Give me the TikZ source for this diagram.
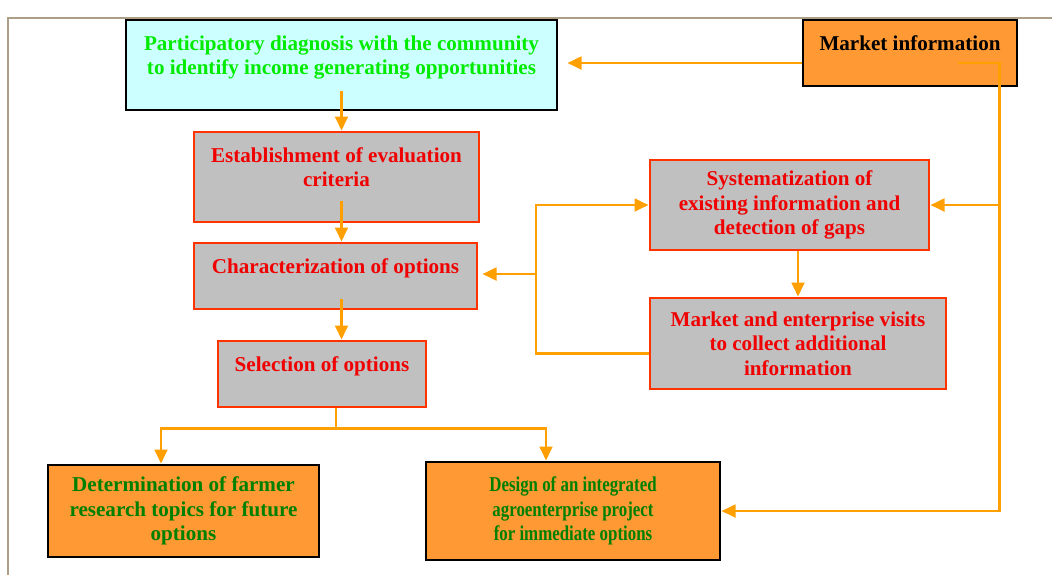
\documentclass[tikz,border=0pt]{standalone}
\usepackage{fontspec}
\setmainfont{Liberation Serif}
\newfontfamily\narrowfont{Liberation Serif}[FakeStretch=0.8]
\usepackage{xcolor}
\usepackage{tikz}
\usetikzlibrary{arrows.meta, calc}
\definecolor{borderline}{RGB}{172,158,135}
\definecolor{paleCyan}{RGB}{204,255,255}
\definecolor{brightGreen}{RGB}{0,235,0}
\definecolor{darkGreen}{RGB}{0,128,0}
\definecolor{stepRed}{RGB}{240,0,0}
\definecolor{stepLine}{RGB}{255,51,0}
\definecolor{stepGray}{RGB}{192,192,192}
\definecolor{boxOrange}{RGB}{255,153,51}
\definecolor{flowOrange}{RGB}{255,160,0}
\tikzset{
    box/.style={rectangle, text centered, draw, line width=2pt, align=center, font=\bfseries\fontsize{15}{17.4}\selectfont},
    diagnosis/.style={box, fill=paleCyan, text=brightGreen},
    stepbox/.style={box, draw=stepLine, fill=stepGray, text=stepRed},
    source/.style={box, fill=boxOrange, text=black},
    outcome/.style={box, fill=boxOrange, text=darkGreen},
    flow/.style={-{Triangle[length=10pt, width=9pt]}, line width=2pt, color=flowOrange},
    link/.style={line width=2pt, color=flowOrange}
}

\begin{document}
\begin{tikzpicture}[x=0.025cm, y=-0.025cm]
    \useasboundingbox (0,0) rectangle (1052,575);
    \draw[line width=1.5pt, borderline] (8,575) -- (8,18) -- (1052,18);

    % Boxes
    \node[diagnosis, minimum width=10.775cm, minimum height=2.25cm] (diag) at (341.5,65) {Participatory diagnosis with the community\\ to identify income generating opportunities\\[-8.5pt] \strut};
    \node[source, minimum width=5.35cm, minimum height=1.65cm] (market) at (910,53) {Market information\\[-8.5pt] \strut};
    \node[stepbox, minimum width=7.125cm, minimum height=2.25cm] (criteria) at (336.5,177) {Establishment of evaluation\\ criteria\\[-8.5pt] \strut};
    \node[stepbox, minimum width=7.075cm, minimum height=1.65cm] (charac) at (335.5,276) {Characterization of options\\[-8.5pt] \strut};
    \node[stepbox, minimum width=5.2cm, minimum height=1.65cm] (select) at (322,374) {Selection of options\\[-8.5pt] \strut};
    \node[stepbox, minimum width=6.975cm, minimum height=2.25cm] (system) at (789.5,205) {Systematization of\\ existing information and\\ detection of gaps};
    \node[stepbox, minimum width=7.4cm, minimum height=2.275cm] (visits) at (798,343.5) {Market and enterprise visits\\ to collect additional\\ information};
    \node[outcome, minimum width=6.775cm, minimum height=2.3cm] (topics) at (183.5,511) {Determination of farmer\\ research topics for future\\ options};
    \node[outcome, minimum width=7.35cm, minimum height=2.45cm, font=\bfseries\narrowfont\fontsize{15}{17.4}\selectfont] (design) at (573,511) {Design of an integrated\\ agroenterprise project\\ for immediate options};

    % Main sequence
    \draw[flow] ($(diag.south)+(0,-20)$) -- (diag.south |- criteria.north);
    \draw[flow] ($(diag.south |- criteria.south)+(0,-22)$) -- (diag.south |- charac.north);
    \draw[flow] ($(diag.south |- charac.south)+(0,-11)$) -- (diag.south |- select.north);
    \draw[link] ($(select.south)+(14,0)$) -- ($(select.south)+(14,20)$) coordinate (fork);
    \draw[flow] (fork) -| ($(topics.north)+(-22.5,0)$);
    \draw[flow] (fork) -| ($(design.north)+(-27,0)$);

    % Market information
    \draw[flow] ($(market.west)+(0,10)$) -- ($(market.west -| diag.east)+(9,10)$);
    \draw[flow] ($(market.east)+(-60,10)$) -- ++(41,0) coordinate (rail) |- (design.east);
    \draw[flow] (rail |- system.east) -- (system.east);

    % Information gathering
    \coordinate (hub) at (536,274);
    \draw[flow] (visits.north |- system.south) -- (visits.north);
    \draw[flow] ($(visits.west)+(0,10)$) -| (hub) -- ($(charac.east)+(4,-2)$);
    \draw[flow] (hub) |- (system.west);
\end{tikzpicture}
\end{document}
